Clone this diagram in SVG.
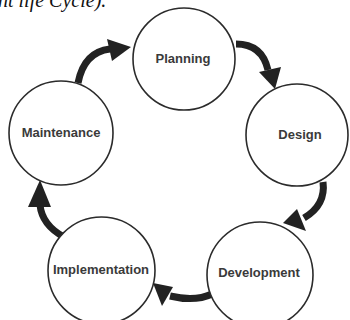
<svg xmlns="http://www.w3.org/2000/svg" width="350" height="320" viewBox="0 0 350 320">
<style>
.node circle{fill:#fff;stroke:#2b2b2b;stroke-width:1.6}
.node text{font-family:"Liberation Sans",Arial,sans-serif;font-weight:bold;font-size:13px;fill:#3a3a3a;text-anchor:middle;dominant-baseline:central}
.conn path{fill:none;stroke:#222;stroke-width:7}
.conn polygon{fill:#222}
.caption{font-family:"Liberation Serif","Times New Roman",serif;font-style:italic;font-size:20px;fill:#111}
</style>
<rect width="350" height="320" fill="#fff"/>
<text class="caption" x="-2" y="7">nt life Cycle).</text>
<g id="connectors" class="conn">
<path d="M78,83 Q84,52 110,49"/>
<polygon points="107,39 131,47 112,61"/>
<path d="M236,44 Q262,44 268,70"/>
<polygon points="259,72 281,67 275,89"/>
<path d="M323,182 Q326,205 304,218"/>
<polygon points="297,209 306,231 283,223"/>
<path d="M212,294 Q195,302 170,296"/>
<polygon points="173,287 162,306 153,283"/>
<path d="M64,237 Q42,225 40,205"/>
<polygon points="28,207 51,207 40,180"/>
</g>
<g id="planning" class="node"><circle cx="184" cy="59" r="51"/><text x="183" y="58">Planning</text></g>
<g id="design" class="node"><circle cx="297" cy="135" r="51"/><text x="300" y="134">Design</text></g>
<g id="development" class="node"><circle cx="260" cy="275" r="53"/><text x="259" y="272">Development</text></g>
<g id="implementation" class="node"><circle cx="101.5" cy="270.5" r="53.5"/><text x="101" y="269">Implementation</text></g>
<g id="maintenance" class="node"><circle cx="61" cy="133" r="52"/><text x="61" y="132">Maintenance</text></g>
</svg>
